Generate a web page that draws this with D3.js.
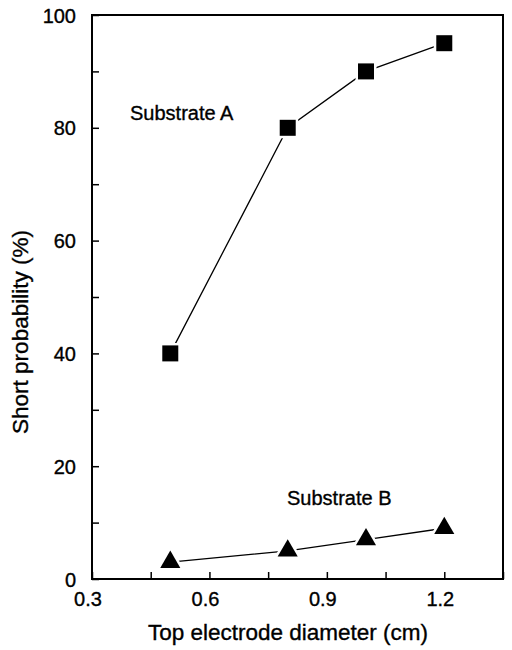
<!DOCTYPE html>
<html>
<head>
<meta charset="utf-8">
<script src="https://cdn.jsdelivr.net/npm/d3@7"></script>
<style>
  body { margin: 0; background: #fff; }
  text { font-family: "Liberation Sans", Arial, sans-serif; fill: #000; stroke: #000; stroke-width: 0.35; }
</style>
</head>
<body>
<svg width="512" height="650"></svg>
<script>
const diameters = [0.5, 0.8, 1.0, 1.2];
const substrateA = [40, 80, 90, 95];
const substrateB = [3, 5, 7, 9];
const xTicks = [0.3, 0.6, 0.9, 1.2];
const yTicks = [0, 20, 40, 60, 80, 100];

const svg = d3.select("svg");
const plotLeft = 92, plotRight = 503, plotTop = 15, plotBottom = 579;

const xScale = d3.scaleLinear().domain([0.3, 1.35]).range([plotLeft, plotRight]);
const yScale = d3.scaleLinear().domain([0, 100]).range([plotBottom, plotTop]);

// frame
svg.append("rect")
    .attr("x", plotLeft).attr("y", plotTop)
    .attr("width", plotRight - plotLeft).attr("height", plotBottom - plotTop)
    .attr("fill", "none").attr("stroke", "#000").attr("stroke-width", 2);

// x axis, ticks pointing inward (minor every 0.15)
const xAxis = svg.append("g").attr("transform", `translate(0,${plotBottom})`)
    .call(d3.axisTop(xScale).tickValues(d3.range(0.3, 1.36, 0.15)).tickSize(7).tickFormat(""));
xAxis.select(".domain").remove();
xAxis.selectAll("line").attr("stroke-width", 1.5);

svg.selectAll(".xlab").data(xTicks).enter().append("text")
    .attr("x", d => xScale(d) - 4).attr("y", 606)
    .attr("text-anchor", "middle").attr("font-size", 20)
    .text(d => d3.format(".1f")(d));

// y axis, ticks pointing inward (minor every 10)
const yAxis = svg.append("g").attr("transform", `translate(${plotLeft},0)`)
    .call(d3.axisRight(yScale).tickValues(d3.range(0, 101, 10)).tickSize(7).tickFormat(""));
yAxis.select(".domain").remove();
yAxis.selectAll("line").attr("stroke-width", 1.5);

svg.selectAll(".ylab").data(yTicks).enter().append("text")
    .attr("x", plotLeft - 16).attr("y", d => yScale(d) + 7.5)
    .attr("text-anchor", "end").attr("font-size", 20)
    .text(d => d);

// axis titles
svg.append("text")
    .attr("x", 288).attr("y", 640)
    .attr("text-anchor", "middle").attr("font-size", 22.5)
    .text("Top electrode diameter (cm)");

svg.append("text")
    .attr("transform", "translate(28,332) rotate(-90)")
    .attr("text-anchor", "middle").attr("font-size", 22.5)
    .text("Short probability (%)");

const line = d3.line().x(d => xScale(d[0])).y(d => yScale(d[1]));

function drawSeries(values, symbol, size) {
    const pts = diameters.map((d, i) => [d, values[i]]);
    svg.append("path").datum(pts)
        .attr("d", line).attr("fill", "none")
        .attr("stroke", "#000").attr("stroke-width", 1.3);
    svg.selectAll(null).data(pts).enter().append("path")
        .attr("transform", d => `translate(${xScale(d[0])},${yScale(d[1])})`)
        .attr("d", d3.symbol().type(symbol).size(size))
        .attr("fill", "#000").attr("stroke", "#fff").attr("stroke-width", 5)
        .attr("paint-order", "stroke");
}

drawSeries(substrateA, d3.symbolSquare, 256);
drawSeries(substrateB, d3.symbolTriangle, 175);

svg.append("text").attr("x", 130).attr("y", 120).attr("font-size", 20).text("Substrate A");
svg.append("text").attr("x", 287).attr("y", 505).attr("font-size", 20).text("Substrate B");
</script>
</body>
</html>
